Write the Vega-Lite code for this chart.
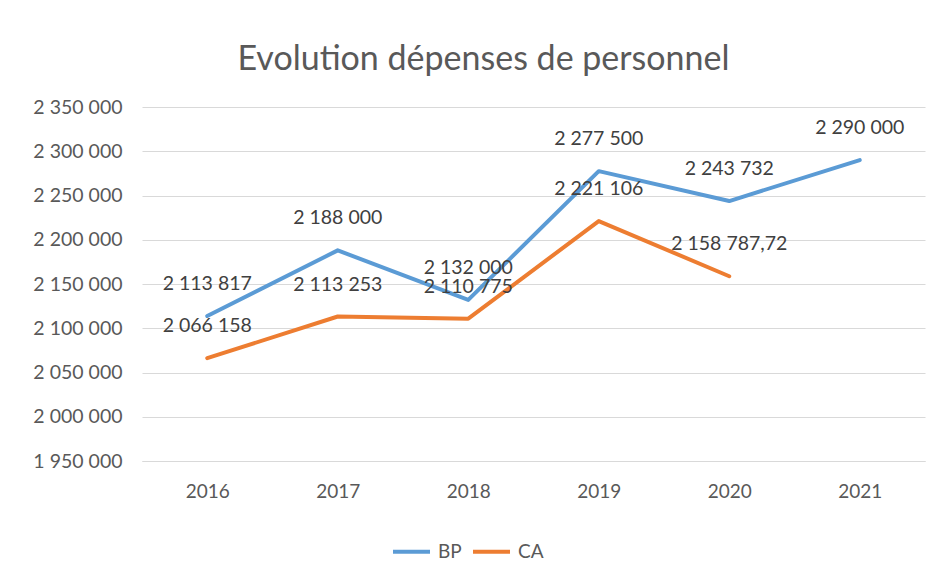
{
  "$schema": "https://vega.github.io/schema/vega-lite/v6.json",
  "width": 783,
  "height": 354,
  "autosize": {"type": "none"},
  "padding": {"left": 142, "top": 107, "right": 16, "bottom": 120},
  "background": "white",
  "config": {
    "locale": {
      "number": {"decimal": ",", "thousands": " ", "grouping": [3], "currency": ["", " €"]}
    },
    "view": {"stroke": null},
    "font": "Lato",
    "text": {"font": "Lato"}
  },
  "title": {
    "text": "Evolution dépenses de personnel",
    "fontSize": 34,
    "font": "Lato",
    "fontWeight": "normal",
    "color": "#595959",
    "anchor": "middle",
    "dx": -50,
    "offset": 20
  },
  "data": {
    "values": [
      {"year": "2016", "series": "BP", "value": 2113817},
      {"year": "2017", "series": "BP", "value": 2188000},
      {"year": "2018", "series": "BP", "value": 2132000},
      {"year": "2019", "series": "BP", "value": 2277500},
      {"year": "2020", "series": "BP", "value": 2243732},
      {"year": "2021", "series": "BP", "value": 2290000},
      {"year": "2016", "series": "CA", "value": 2066158},
      {"year": "2017", "series": "CA", "value": 2113253},
      {"year": "2018", "series": "CA", "value": 2110775},
      {"year": "2019", "series": "CA", "value": 2221106},
      {"year": "2020", "series": "CA", "value": 2158787.72}
    ]
  },
  "encoding": {
    "x": {
      "field": "year",
      "type": "ordinal",
      "scale": {"type": "point", "padding": 0.5},
      "axis": {
        "title": null,
        "labelAngle": 0,
        "ticks": false,
        "domain": true,
        "domainColor": "#d9d9d9",
        "labelFontSize": 19,
        "labelColor": "#595959",
        "labelPadding": 21,
        "grid": false
      }
    },
    "y": {
      "field": "value",
      "type": "quantitative",
      "scale": {"domain": [1950000, 2350000], "nice": false, "zero": false},
      "axis": {
        "title": null,
        "values": [1950000, 2000000, 2050000, 2100000, 2150000, 2200000, 2250000, 2300000, 2350000],
        "format": ",d",
        "ticks": false,
        "domain": false,
        "gridColor": "#d9d9d9",
        "gridWidth": 1,
        "labelFontSize": 19.5,
        "labelColor": "#595959",
        "labelPadding": 20
      }
    },
    "color": {
      "field": "series",
      "type": "nominal",
      "scale": {"domain": ["BP", "CA"], "range": ["#5B9BD5", "#ED7D31"]},
      "legend": {
        "title": null,
        "orient": "none",
        "legendX": 249,
        "legendY": 424,
        "direction": "horizontal",
        "symbolType": "stroke",
        "symbolSize": 1369,
        "symbolStrokeWidth": 4,
        "labelFontSize": 19,
        "labelColor": "#595959",
        "columnPadding": 3,
        "labelOffset": 6
      }
    }
  },
  "layer": [
    {
      "mark": {"type": "line", "strokeWidth": 4, "strokeCap": "round", "strokeJoin": "round"}
    },
    {
      "mark": {"type": "text", "fontSize": 19.5, "color": "#404040", "dy": -32, "baseline": "middle"},
      "encoding": {
        "text": {"field": "value", "type": "quantitative", "format": ",.2~f"},
        "color": {"value": "#404040"}
      }
    }
  ]
}
